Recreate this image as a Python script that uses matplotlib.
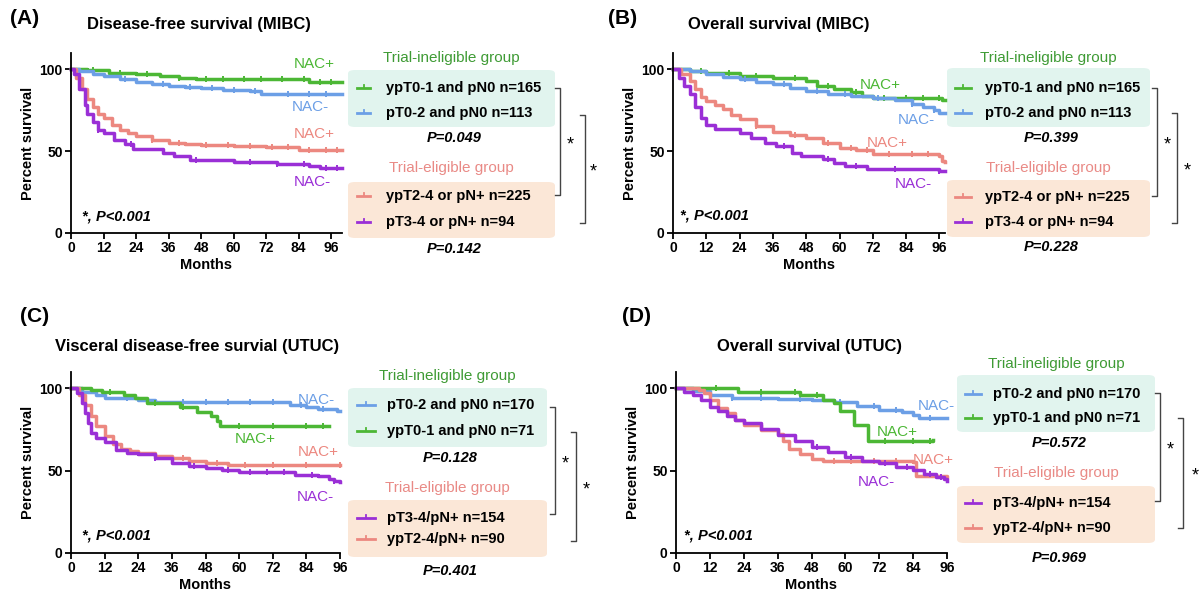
import numpy as np
import matplotlib
matplotlib.use("Agg")
import matplotlib.pyplot as plt
from matplotlib.patches import FancyBboxPatch
from matplotlib.lines import Line2D

plt.rcParams['font.family'] = ['Liberation Sans', 'DejaVu Sans']
plt.rcParams['font.weight'] = 'bold'
plt.rcParams['axes.labelweight'] = 'bold'

GREEN = '#4cb735'
BLUE = '#6c9fe6'
SALMON = '#ec8880'
PURPLE = '#9a2fd6'

# ---- data: (month, percent survival) step points, censor times ----
# (A) Disease-free survival (MIBC)
a_green = [(0, 100), (6, 99.5), (14, 98), (24, 97), (33, 96), (40, 95), (46, 94), (60, 94), (88, 92), (100, 92)]
a_blue = [(0, 100), (3, 99), (8, 97), (12, 96), (18, 94), (24, 92.5), (30, 91), (36, 90), (42, 89.5), (48, 88.5),
          (56, 87.5), (66, 86.5), (70, 85), (100, 85)]
a_salmon = [(0, 100), (2, 95), (4, 88), (6, 82), (8, 77), (10, 73), (12, 70), (15, 66), (18, 63), (21, 61), (24, 59),
            (30, 57), (36, 55), (42, 54.5), (48, 53.5), (60, 53), (72, 52.5), (84, 51), (100, 51)]
a_purple = [(0, 100), (1, 97), (3, 88), (5, 78), (6, 73), (8, 68), (10, 63), (12, 61), (16, 57), (20, 54.5), (23, 51.5),
            (34, 49), (38, 47), (44, 44.5), (60, 43.5), (76, 42), (88, 41), (92, 39.5), (100, 39.5)]
a_cens = {'green': [8, 18, 28, 40, 50, 56, 64, 70, 78, 86, 92, 96],
          'blue': [20, 34, 44, 52, 60, 68, 80, 88, 94],
          'salmon': [30, 40, 50, 58, 66, 74, 80, 88, 94, 98],
          'purple': [10, 22, 46, 66, 76, 86, 94, 98]}

# (B) Overall survival (MIBC)
b_green = [(0, 100), (6, 99), (12, 97.5), (24, 96), (36, 94.5), (48, 93), (52, 90), (58, 88), (64, 86), (68, 84),
           (72, 82.5), (96, 82.5), (97, 81), (98, 81)]
b_blue = [(0, 100), (6, 99), (12, 97), (18, 95.5), (24, 94), (30, 92.5), (36, 91), (42, 88.5), (48, 87), (56, 85),
          (64, 84), (72, 82.5), (80, 81.5), (86, 79), (90, 77), (94, 75), (96, 73.5), (98, 73.5)]
b_salmon = [(0, 100), (3, 97), (6, 93), (8, 88), (10, 83), (12, 80.5), (15, 78), (18, 75.5), (21, 72), (24, 69.5),
            (30, 65.5), (36, 62), (42, 60), (48, 58), (54, 55), (60, 52), (66, 51), (72, 48.5), (84, 48), (96, 47),
            (97, 44), (98, 43.5)]
b_purple = [(0, 100), (2, 95), (4, 90), (6, 85), (8, 77), (10, 70), (12, 66), (15, 63.5), (24, 61), (28, 58), (33, 55),
            (37, 53), (43, 49), (46, 47), (54, 45), (58, 43), (62, 41), (70, 39), (96, 38), (98, 38)]
b_cens = {'green': [10, 20, 30, 44, 56, 66, 76, 84, 90, 96],
          'blue': [26, 40, 52, 62, 74, 86, 94],
          'salmon': [30, 44, 56, 64, 70, 78, 86, 92],
          'purple': [40, 56, 66, 80, 96]}

# (C) Visceral disease-free survival (UTUC)
c_blue = [(0, 100), (4, 98), (9, 96), (12, 94), (24, 93), (30, 92), (72, 91.5), (78, 90), (84, 89), (88, 87.5),
          (95, 86), (96, 86)]
c_green = [(0, 100), (5, 100), (7, 99), (11, 98), (19, 96), (23, 94.5), (27, 91), (39, 89), (45, 85.5), (50, 83.5),
           (52, 80), (53, 77), (92, 77)]
c_salmon = [(0, 100), (3, 96), (5, 90), (7, 83), (9, 77), (12, 71), (15, 66.5), (18, 63.5), (21, 62), (24, 60.5),
            (30, 59), (36, 57.5), (42, 56), (48, 55), (56, 53.5), (96, 53.5)]
c_purple = [(0, 100), (2, 97), (4, 91), (5, 85), (6, 79), (7, 73), (9, 70), (12, 67.5), (16, 62.5), (20, 61), (24, 60),
            (30, 57.5), (36, 55), (42, 53), (48, 51.5), (54, 50.5), (60, 49.5), (72, 49), (80, 47.5), (88, 46.5),
            (92, 45), (94, 44), (96, 43)]
c_cens = {'blue': [20, 30, 40, 48, 56, 64, 72, 82, 90],
          'green': [14, 30, 40, 60, 72, 84, 90],
          'salmon': [40, 52, 62, 72, 84, 96],
          'purple': [30, 44, 56, 64, 70, 76, 86, 94]}

# (D) Overall survival (UTUC)
d_blue = [(0, 100), (6, 98.5), (12, 96), (20, 94.5), (36, 93.5), (48, 93), (56, 91.5), (64, 89.5), (72, 87),
          (80, 85.5), (84, 84), (86, 82), (96, 82)]
d_green = [(0, 100), (22, 98), (44, 96), (52, 93), (56, 91), (58, 86), (63, 78), (68, 68), (91, 68.5)]
d_salmon = [(0, 100), (8, 99), (10, 97), (12, 93), (15, 88), (18, 85), (21, 81), (24, 78), (30, 75), (36, 72.5),
            (38, 68), (40, 63), (44, 60), (48, 57), (52, 56), (84, 55.5), (85, 47), (96, 46)]
d_purple = [(0, 100), (3, 98), (6, 96), (9, 93), (12, 89), (15, 86), (18, 83), (21, 81), (24, 79), (30, 75.5),
            (36, 72), (42, 68), (48, 64.5), (54, 61.5), (60, 58.5), (66, 56), (72, 54.5), (78, 52.5), (84, 50.5),
            (88, 48), (92, 46), (95, 45), (96, 43.5)]
d_cens = {'blue': [20, 30, 44, 58, 70, 78, 90],
          'green': [14, 30, 42, 50, 74, 84, 90],
          'salmon': [56, 62, 70, 78],
          'purple': [50, 62, 74, 82, 90, 94]}

labels_mibc = ['ypT0-1 and pN0 n=165', 'pT0-2 and pN0 n=113', 'ypT2-4 or pN+ n=225', 'pT3-4 or pN+ n=94']
labels_utuc_c = ['pT0-2 and pN0 n=170', 'ypT0-1 and pN0 n=71', 'pT3-4/pN+ n=154', 'ypT2-4/pN+ n=90']
p_values = [('P=0.049', 'P=0.142'), ('P=0.399', 'P=0.228'), ('P=0.128', 'P=0.401'), ('P=0.572', 'P=0.969')]
titles = ['Disease-free survival (MIBC)', 'Overall survival (MIBC)',
          'Visceral disease-free survial (UTUC)', 'Overall survival (UTUC)']
panel_tags = ['(A)', '(B)', '(C)', '(D)']

W, H = 1200, 594
fig = plt.figure(figsize=(12, 5.94), dpi=100)


def fx(x):
    return x / W


def fy(y):
    return 1 - y / H


def ftext(x, y, s, **kw):
    fig.text(fx(x), fy(y), s, va='center', **kw)


def draw_km(ax, curve, cens, color):
    t = np.array([p[0] for p in curve])
    s = np.array([p[1] for p in curve])
    ax.step(t, s, where='post', color=color, lw=2.5, clip_on=False)
    c = np.array(cens)
    idx = np.searchsorted(t, c, side='right') - 1
    ax.plot(c, s[idx], ls='none', marker='|', ms=5, mew=1.4, color=color, clip_on=False)


def make_axes(x0, y0, x1, y1, xmax):
    ax = fig.add_axes([fx(x0), fy(y1), (x1 - x0) / W, (y1 - y0) / H])
    ax.set_xlim(0, xmax)
    ax.set_ylim(0, 110)
    ax.set_xticks(range(0, 97, 12))
    ax.set_yticks([0, 50, 100])
    for side in ['top', 'right']:
        ax.spines[side].set_visible(False)
    for side in ['left', 'bottom']:
        ax.spines[side].set_linewidth(1.3)
    ax.tick_params(direction='out', length=4, width=1.3, labelsize=10, pad=2)
    ax.set_xlabel('Months', fontsize=10.5, labelpad=2)
    ax.set_ylabel('Percent survival', fontsize=10.5, labelpad=3)
    return ax


def legend_block(x0, x1, title_y, box1, rows1, p1_y, title2_y, box2, rows2, p2_y,
                 entries, pvals, text_x, handle_x):
    cx = (x0 + x1) / 2
    ftext(cx, title_y, 'Trial-ineligible group', ha='center', color='#3f9b35', fontsize=11, fontweight='normal')
    ftext(cx, title2_y, 'Trial-eligible group', ha='center', color='#e98a86', fontsize=11, fontweight='normal')
    for (ya, yb), fc in [(box1, '#e1f4ee'), (box2, '#fbe7d7')]:
        fig.add_artist(FancyBboxPatch((fx(x0), fy(yb)), (x1 - x0) / W, (yb - ya) / H,
                                      boxstyle='round,pad=0,rounding_size=0.006',
                                      transform=fig.transFigure, fc=fc, ec='none', zorder=0))
    for (y, (label, color)) in zip(rows1 + rows2, entries):
        fig.add_artist(Line2D([fx(handle_x[0]), fx(handle_x[1])], [fy(y), fy(y)], color=color, lw=2))
        xm = (handle_x[0] + handle_x[1]) / 2
        fig.add_artist(Line2D([fx(xm), fx(xm)], [fy(y - 3), fy(y)], color=color, lw=1.3))
        ftext(text_x, y, label, ha='left', fontsize=10.5)
    ftext(cx + 3, p1_y, pvals[0], ha='center', fontsize=10.5, style='italic')
    ftext(cx + 3, p2_y, pvals[1], ha='center', fontsize=10.5, style='italic')


def bracket(x, ya, yb, star_x):
    fig.add_artist(Line2D([fx(x - 5), fx(x), fx(x), fx(x - 5)], [fy(ya), fy(ya), fy(yb), fy(yb)],
                          color='#444444', lw=1))
    ftext(star_x, (ya + yb) / 2 + 3, '*', ha='center', fontsize=13, fontweight='normal')


# ---------- panel A ----------
ax = make_axes(71, 53, 342, 233, 100)
draw_km(ax, a_green, a_cens['green'], GREEN)
draw_km(ax, a_blue, a_cens['blue'], BLUE)
draw_km(ax, a_salmon, a_cens['salmon'], SALMON)
draw_km(ax, a_purple, a_cens['purple'], PURPLE)
ftext(10, 18, panel_tags[0], ha='left', fontsize=15)
ftext(87, 25, titles[0], ha='left', fontsize=12)
ftext(82, 217, '*, P<0.001', ha='left', fontsize=10.5, style='italic')
for (x, y, s, c) in [(294, 64, 'NAC+', GREEN), (292, 107, 'NAC-', BLUE), (294, 134, 'NAC+', SALMON),
                     (294, 182, 'NAC-', PURPLE)]:
    ftext(x, y, s, ha='left', color=c, fontsize=11, fontweight='normal')
legend_block(348, 555, 58, (70, 127), [88, 113], 138, 168, (182, 238), [196, 222], 249,
             list(zip(labels_mibc, [GREEN, BLUE, SALMON, PURPLE])), p_values[0], 386, (357, 370))
bracket(560, 88, 195, 570)
bracket(585, 115, 223, 593)

# ---------- panel B ----------
ax = make_axes(673, 53, 945, 233, 98)
draw_km(ax, b_green, b_cens['green'], GREEN)
draw_km(ax, b_blue, b_cens['blue'], BLUE)
draw_km(ax, b_salmon, b_cens['salmon'], SALMON)
draw_km(ax, b_purple, b_cens['purple'], PURPLE)
ftext(608, 18, panel_tags[1], ha='left', fontsize=15)
ftext(688, 25, titles[1], ha='left', fontsize=12)
ftext(680, 216, '*, P<0.001', ha='left', fontsize=10.5, style='italic')
for (x, y, s, c) in [(860, 85, 'NAC+', GREEN), (898, 120, 'NAC-', BLUE), (867, 143, 'NAC+', SALMON),
                     (895, 184, 'NAC-', PURPLE)]:
    ftext(x, y, s, ha='left', color=c, fontsize=11, fontweight='normal')
legend_block(947, 1150, 58, (68, 127), [88, 113], 138, 168, (180, 237), [197, 222], 247,
             list(zip(labels_mibc, [GREEN, BLUE, SALMON, PURPLE])), p_values[1], 985, (955, 971))
bracket(1157, 88, 196, 1167)
bracket(1177, 113, 223, 1187)

# ---------- panel C ----------
ax = make_axes(71, 372, 340, 553, 96)
draw_km(ax, c_blue, c_cens['blue'], BLUE)
draw_km(ax, c_green, c_cens['green'], GREEN)
draw_km(ax, c_salmon, c_cens['salmon'], SALMON)
draw_km(ax, c_purple, c_cens['purple'], PURPLE)
ftext(20, 316, panel_tags[2], ha='left', fontsize=15)
ftext(55, 347, titles[2], ha='left', fontsize=12)
ftext(82, 535, '*, P<0.001', ha='left', fontsize=10.5, style='italic')
for (x, y, s, c) in [(298, 400, 'NAC-', BLUE), (235, 439, 'NAC+', GREEN), (298, 452, 'NAC+', SALMON),
                     (297, 497, 'NAC-', PURPLE)]:
    ftext(x, y, s, ha='left', color=c, fontsize=11, fontweight='normal')
legend_block(348, 547, 376, (388, 447), [405, 431], 458, 488, (500, 557), [518, 539], 571,
             list(zip(labels_utuc_c, [BLUE, GREEN, PURPLE, SALMON])), p_values[2], 387, (357, 375))
bracket(555, 407, 514, 565)
bracket(576, 432, 541, 586)

# ---------- panel D ----------
ax = make_axes(676, 372, 947, 553, 96)
draw_km(ax, d_blue, d_cens['blue'], BLUE)
draw_km(ax, d_green, d_cens['green'], GREEN)
draw_km(ax, d_salmon, d_cens['salmon'], SALMON)
draw_km(ax, d_purple, d_cens['purple'], PURPLE)
ftext(622, 316, panel_tags[3], ha='left', fontsize=15)
ftext(717, 347, titles[3], ha='left', fontsize=12)
ftext(684, 535, '*, P<0.001', ha='left', fontsize=10.5, style='italic')
for (x, y, s, c) in [(918, 406, 'NAC-', BLUE), (877, 432, 'NAC+', GREEN), (913, 460, 'NAC+', SALMON),
                     (858, 482, 'NAC-', PURPLE)]:
    ftext(x, y, s, ha='left', color=c, fontsize=11, fontweight='normal')
legend_block(957, 1155, 364, (375, 432), [394, 418], 443, 473, (486, 543), [503, 528], 558,
             list(zip(labels_utuc_c, [BLUE, GREEN, PURPLE, SALMON])), p_values[3], 993, (965, 981))
bracket(1160, 393, 501, 1170)
bracket(1183, 418, 528, 1195)

fig.savefig('out.png', dpi=100, facecolor='white')
